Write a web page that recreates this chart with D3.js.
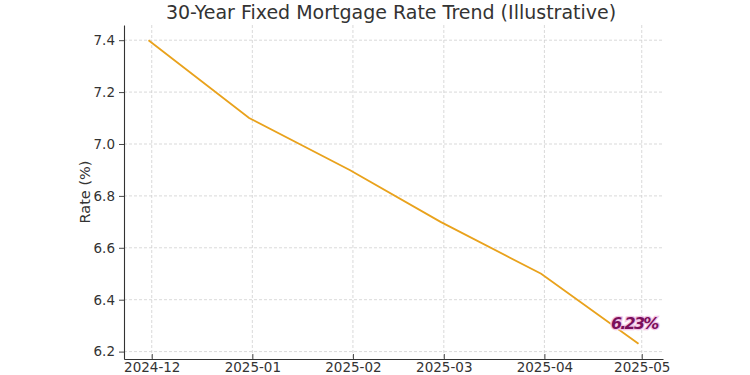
<!DOCTYPE html>
<html>
<head>
<meta charset="utf-8">
<script src="https://cdn.jsdelivr.net/npm/d3@7"></script>
<style>
  html, body { margin: 0; padding: 0; background: #fff; }
  svg { display: block; }
  text { font-family: "DejaVu Sans", sans-serif; }
</style>
</head>
<body>
<svg id="chart" width="750" height="375"></svg>
<script>
const dates = ["2024-11-30", "2024-12-31", "2025-01-31", "2025-02-28", "2025-03-31", "2025-04-30"];
const rates = [7.40, 7.10, 6.90, 6.70, 6.50, 6.23];
const yTicks = [6.2, 6.4, 6.6, 6.8, 7.0, 7.2, 7.4];
const xTickLabels = ["2024-12", "2025-01", "2025-02", "2025-03", "2025-04", "2025-05"];
const title = "30-Year Fixed Mortgage Rate Trend (Illustrative)";
const yLabel = "Rate (%)";
const note = "6.23%";

const parse = d3.utcParse("%Y-%m-%d");
const parseM = d3.utcParse("%Y-%m");
const data = dates.map((d, i) => ({ date: parse(d), rate: rates[i] }));

const margin = { left: 124, right: 87, top: 25, bottom: 16 };
const W = 750, H = 375;
const svg = d3.select("#chart");

// 5% padding like matplotlib
const t0 = +data[0].date, t1 = +data[data.length - 1].date;
const tp = (t1 - t0) * 0.05;
const r0 = d3.min(rates), r1 = d3.max(rates);
const rp = (r1 - r0) * 0.05;

const x = d3.scaleUtc().domain([new Date(t0 - tp), new Date(t1 + tp)]).range([margin.left, W - margin.right]);
const y = d3.scaleLinear().domain([r0 - rp, r1 + rp]).range([H - margin.bottom, margin.top]);

const xTicks = xTickLabels.map(s => parseM(s));

// grid
const grid = svg.append("g");
grid.selectAll("line.v").data(xTicks).enter().append("line")
  .attr("x1", d => x(d)).attr("x2", d => x(d))
  .attr("y1", margin.top).attr("y2", H - margin.bottom)
  .attr("stroke", "#cfcfcf").attr("stroke-width", 0.8).attr("stroke-dasharray", "3,2");
grid.selectAll("line.h").data(yTicks).enter().append("line")
  .attr("x1", margin.left).attr("x2", W - margin.right)
  .attr("y1", d => y(d)).attr("y2", d => y(d))
  .attr("stroke", "#cfcfcf").attr("stroke-width", 0.8).attr("stroke-dasharray", "3,2");

// line
svg.append("path").datum(data)
  .attr("fill", "none").attr("stroke", "#e9a21c").attr("stroke-width", 1.8)
  .attr("d", d3.line().x(d => x(d.date)).y(d => y(d.rate)));

// axes
const xAxis = d3.axisBottom(x).tickValues(xTicks).tickFormat(d3.utcFormat("%Y-%m")).tickSizeInner(-5).tickSizeOuter(0).tickPadding(8);
const gx = svg.append("g").attr("transform", `translate(0,${H - margin.bottom})`).call(xAxis);
const yAxis = d3.axisLeft(y).tickValues(yTicks).tickFormat(d3.format(".1f")).tickSize(5).tickSizeOuter(0).tickPadding(4);
const gy = svg.append("g").attr("transform", `translate(${margin.left},0)`).call(yAxis);
[gx, gy].forEach(g => {
  g.select(".domain").attr("stroke", "#333").attr("stroke-width", 1.1);
  g.selectAll(".tick line").attr("stroke", "#333").attr("stroke-width", 0.9);
  g.selectAll(".tick text").attr("fill", "#333").style("font-size", "13.5px").style("font-family", "DejaVu Sans, sans-serif");
});
gx.selectAll(".tick text").attr("y", 13).attr("dy", 0);

// title
svg.append("text").attr("x", 391).attr("y", 18.5)
  .attr("text-anchor", "middle").attr("fill", "#333").style("font-size", "19px").text(title);

// y label
svg.append("text").attr("transform", `translate(90,${(margin.top + H - margin.bottom) / 2}) rotate(-90)`)
  .attr("text-anchor", "middle").attr("fill", "#333").style("font-size", "14.5px").text(yLabel);

// annotation
const last = data[data.length - 1];
svg.append("text").attr("x", x(last.date) + 19).attr("y", y(last.rate) - 15)
  .attr("text-anchor", "end").attr("fill", "#7b0f5c")
  .attr("stroke", "#f3c6e6").attr("stroke-width", 2.5).style("paint-order", "stroke")
  .style("font-size", "16px").style("font-style", "italic").style("font-weight", "bold")
  .attr("letter-spacing", "-1.8").text(note);
</script>
</body>
</html>
